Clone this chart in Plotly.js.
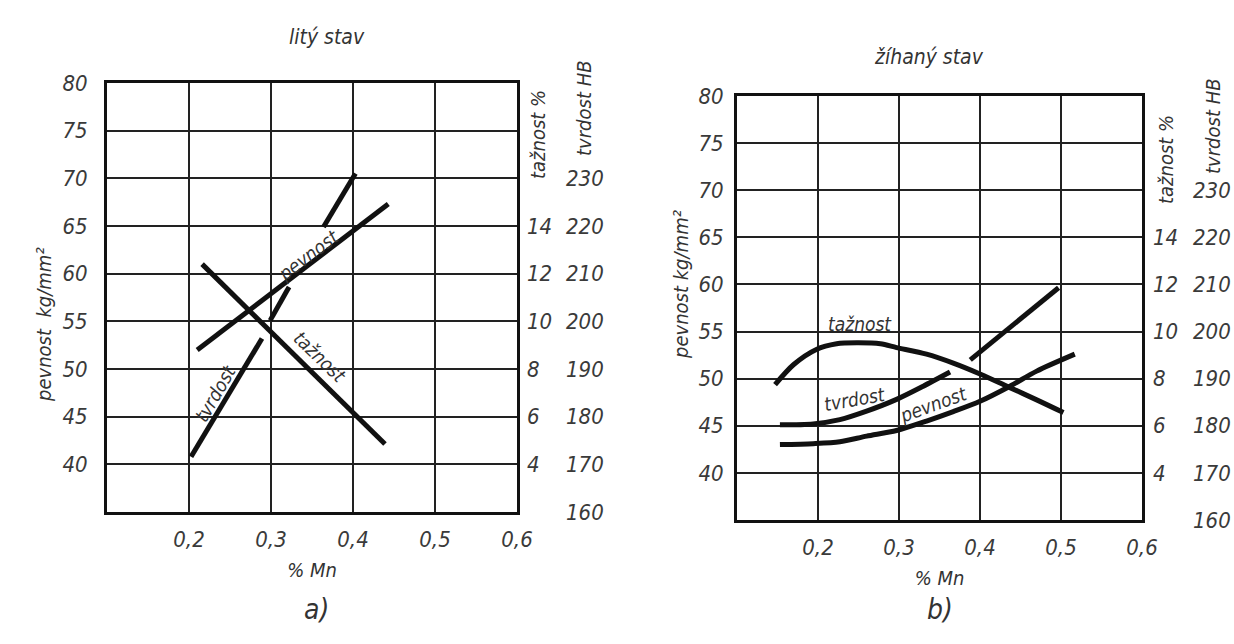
<!DOCTYPE html>
<html>
<head>
<meta charset="utf-8">
<script src="https://cdn.plot.ly/plotly-3.0.1.min.js"></script>
<style>
html,body{margin:0;padding:0;background:#fff;}
#chart{width:1234px;height:644px;}
</style>
</head>
<body>
<div id="chart"></div>
<script>
// ---------- data ----------
// x tick labels (decimal comma)
const mnTickVals = [0.2, 0.3, 0.4, 0.5, 0.6];
const mnTickText = ["0,2", "0,3", "0,4", "0,5", "0,6"];
const pevnostTicks = [40, 45, 50, 55, 60, 65, 70, 75, 80];
const taznostTicks = [4, 6, 8, 10, 12, 14];
const tvrdostTicks = [160, 170, 180, 190, 200, 210, 220, 230];

// a) litý stav
const aMnPevnost = [0.21, 0.443];
const aPevnost = [52.0, 67.3];
const aMnTaznost = [0.216, 0.439];
const aTaznost = [12.4, 4.85];
const aMnTvrdost = [0.2025, 0.289, null, 0.299, 0.322, null, 0.364, 0.403];
const aTvrdost = [171.6, 196.4, null, 200.2, 207.2, null, 219.8, 231.0];

// b) žíhaný stav
const bMnTaznost = [0.147, 0.170, 0.198, 0.223, 0.248, 0.277, 0.297, 0.334, 0.367, 0.400, 0.437, 0.470, 0.503];
const bTaznost = [7.75, 8.6, 9.24, 9.48, 9.52, 9.48, 9.32, 9.04, 8.66, 8.2, 7.62, 7.1, 6.56];
const bMnTvrdost = [0.153, 0.194, 0.227, 0.260, 0.297, 0.330, 0.363, null, 0.388, 0.497];
const bTvrdost = [180.2, 180.4, 181.3, 183.1, 185.6, 188.4, 191.4, null, 194.0, 209.3];
const bMnPevnost = [0.153, 0.194, 0.227, 0.260, 0.297, 0.334, 0.367, 0.400, 0.437, 0.470, 0.517];
const bPevnost = [43.0, 43.1, 43.3, 43.9, 44.5, 45.5, 46.5, 47.6, 49.2, 50.8, 52.6];

// ---------- styling ----------
const W = 1234, H = 644;
const FONT = "Liberation Sans Narrow, DejaVu Sans Condensed, sans-serif";
const tickFont = {family: FONT, size: 22, style: "italic", color: "#3a3a3a"};
const labFont = {family: FONT, size: 19, style: "italic", color: "#333"};
const curve = {color: "#111", width: 5};
const px = v => v / W, py = v => 1 - v / H;

function xAx(domain, anchor) {
  return {
    domain: domain, anchor: anchor, range: [0.1, 0.6],
    tickmode: "array", tickvals: mnTickVals, ticktext: mnTickText,
    showgrid: true, gridcolor: "#222", gridwidth: 2,
    showline: true, mirror: true, linecolor: "#111", linewidth: 3,
    zeroline: false, ticks: "", tickfont: tickFont, ticklabelstandoff: 6,
    title: {text: "% Mn", font: {family: FONT, size: 20, style: "italic", color: "#333"}, standoff: 12}
  };
}
function yLeft(domain, anchor, standoff) {
  return {
    domain: domain, anchor: anchor, range: [35, 80],
    tickmode: "array", tickvals: pevnostTicks,
    showgrid: true, gridcolor: "#222", gridwidth: 2,
    showline: true, mirror: true, linecolor: "#111", linewidth: 3,
    zeroline: false, ticks: "", tickfont: tickFont, ticklabelstandoff: standoff
  };
}
function yTaz(anchor, over, standoff) {
  return {
    overlaying: over, anchor: anchor, side: "right", range: [2, 20],
    tickmode: "array", tickvals: taznostTicks,
    showgrid: false, showline: false, zeroline: false, ticks: "",
    tickfont: tickFont, ticklabelstandoff: standoff
  };
}
function yHB(over, pos) {
  return {
    overlaying: over, anchor: "free", position: pos, side: "right", range: [160, 250],
    tickmode: "array", tickvals: tvrdostTicks,
    showgrid: false, showline: false, zeroline: false, ticks: "",
    tickfont: tickFont, ticklabelstandoff: 2
  };
}

const smooth = Object.assign({shape: "spline", smoothing: 0.8}, curve);
const traces = [
  {x: aMnPevnost, y: aPevnost, xaxis: "x", yaxis: "y", mode: "lines", line: curve, name: "pevnost"},
  {x: aMnTaznost, y: aTaznost, xaxis: "x", yaxis: "y2", mode: "lines", line: curve, name: "tažnost"},
  {x: aMnTvrdost, y: aTvrdost, xaxis: "x", yaxis: "y3", mode: "lines", line: curve, name: "tvrdost", connectgaps: false},
  {x: bMnPevnost, y: bPevnost, xaxis: "x2", yaxis: "y4", mode: "lines", line: smooth, name: "pevnost"},
  {x: bMnTaznost, y: bTaznost, xaxis: "x2", yaxis: "y5", mode: "lines", line: smooth, name: "tažnost"},
  {x: bMnTvrdost, y: bTvrdost, xaxis: "x2", yaxis: "y6", mode: "lines", line: smooth, name: "tvrdost", connectgaps: false}
];

const aXd = [px(107), px(517)], aYd = [py(512), py(83)];
const bXd = [px(737), px(1142)], bYd = [py(520), py(96)];

function pap(text, x, y, size, angle) {
  return {text: text, xref: "paper", yref: "paper", x: px(x), y: py(y),
    showarrow: false, textangle: angle || 0, xanchor: "center", yanchor: "middle",
    font: {family: FONT, size: size, style: "italic", color: "#333"}};
}
function dat(text, xr, yr, x, y, angle) {
  return {text: text, xref: xr, yref: yr, x: x, y: y, showarrow: false,
    textangle: angle, xanchor: "center", yanchor: "middle", font: labFont};
}

const annotations = [
  pap("litý stav", 327, 37, 21, 0),
  pap("žíhaný stav", 929, 57, 21, 0),
  pap("a)", 316, 609, 28, 0),
  pap("b)", 940, 609, 28, 0),
  pap("pevnost  kg/mm²", 44, 325, 20, -90),
  pap("tažnost %", 538, 135, 20, -90),
  pap("tvrdost HB", 584, 108, 20, -90),
  pap("pevnost kg/mm²", 681, 285, 20, -90),
  pap("tažnost %", 1166, 160, 20, -90),
  pap("tvrdost HB", 1213, 126, 20, -90),
  dat("pevnost", "x", "y", 0.3455, 61.96, -37),
  dat("tvrdost", "x", "y", 0.232, 47.5, -60),
  dat("tažnost", "x", "y", 0.360, 51.26, 44),
  dat("tažnost", "x2", "y4", 0.2519, 55.8, 0),
  dat("tvrdost", "x2", "y4", 0.2457, 47.8, -10),
  dat("pevnost", "x2", "y4", 0.3432, 47.3, -20)
];

const layout = {
  width: W, height: H,
  margin: {l: 0, r: 0, t: 0, b: 0},
  paper_bgcolor: "#fff", plot_bgcolor: "#fff",
  showlegend: false,
  xaxis: xAx(aXd, "y"),
  yaxis: yLeft(aYd, "x", 12),
  yaxis2: yTaz("x", "y", 9),
  yaxis3: yHB("y", px(563)),
  xaxis2: xAx(bXd, "y4"),
  yaxis4: yLeft(bYd, "x2", 6),
  yaxis5: yTaz("x2", "y4", 10),
  yaxis6: yHB("y4", px(1190)),
  annotations: annotations
};

Plotly.newPlot("chart", traces, layout, {displayModeBar: false, staticPlot: true});
</script>
</body>
</html>
